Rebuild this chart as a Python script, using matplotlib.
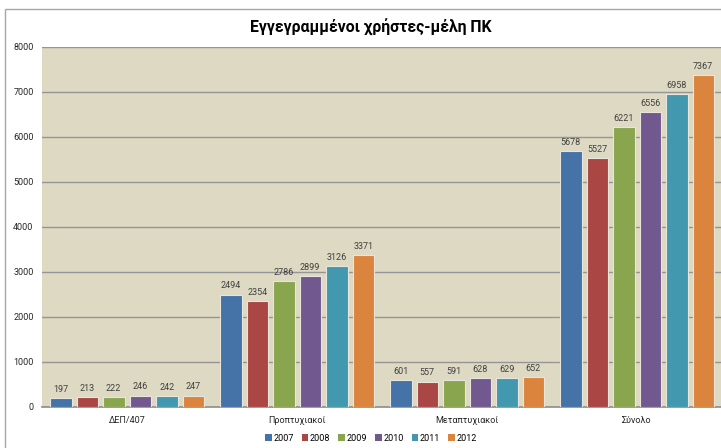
import matplotlib
matplotlib.use("Agg")
import matplotlib.pyplot as plt
import numpy as np
from matplotlib.patches import Rectangle, Patch

categories = ["ΔΕΠ/407", "Προπτυχιακοί", "Μεταπτυχιακοί", "Σύνολο"]
years = ["2007", "2008", "2009", "2010", "2011", "2012"]
v2007 = [197, 2494, 601, 5678]
v2008 = [213, 2354, 557, 5527]
v2009 = [222, 2786, 591, 6221]
v2010 = [246, 2899, 628, 6556]
v2011 = [242, 3126, 629, 6958]
v2012 = [247, 3371, 652, 7367]
series = [v2007, v2008, v2009, v2010, v2011, v2012]
colors = ["#4572A7", "#AA4643", "#89A54E", "#71588F", "#4198AF", "#DB843D"]
yticks = [0, 1000, 2000, 3000, 4000, 5000, 6000, 7000, 8000]

plt.rcParams['font.family'] = ['Roboto', 'DejaVu Sans']

W, H = 721, 448
fig = plt.figure(figsize=(W / 100, H / 100), dpi=100)
fig.patch.set_facecolor("white")

# outer chart border (left and top visible; right/bottom cropped)
fig.patches.append(Rectangle((5 / W, -0.1), 1.2, 0.1 + (H - 9) / H, transform=fig.transFigure,
                             fill=False, edgecolor="#A6A6A6", linewidth=1.0))

left, right = 42 / W, 722 / W
bottom, top = (H - 406.7) / H, (H - 47) / H
ax = fig.add_axes([left, bottom, right - left, top - bottom])
ax.set_facecolor("#DDD9C3")

x = np.arange(len(categories))
pitch = 26.5 / 170
width = 21.5 / 170
for i, (vals, c) in enumerate(zip(series, colors)):
    pos = x + (i - 2.5) * pitch
    bars = ax.bar(pos, vals, width=width, color=c, edgecolor="#E8E6DA", linewidth=0.8,
                  zorder=3, label=years[i])
    for b, v in zip(bars, vals):
        ax.annotate(str(v), (b.get_x() + b.get_width() / 2, v), xytext=(0, 3),
                    textcoords="offset points", ha="center", va="bottom",
                    fontsize=6.5, color="#404040", zorder=4)

ax.set_xlim(-0.5, len(categories) - 0.5)
ax.set_ylim(0, 8000)
ax.set_yticks(yticks)
ax.set_yticklabels([str(t) for t in yticks], fontsize=6.5, color="#262626")
ax.set_xticks(x)
ax.set_xticklabels(categories, fontsize=6.5, color="#262626")
ax.tick_params(axis="both", length=0, pad=6)
ax.tick_params(axis="x", pad=7)
ax.yaxis.grid(True, color="#959595", linewidth=1.0, zorder=1)
ax.set_axisbelow(True)
for s in ["left", "right", "top"]:
    ax.spines[s].set_visible(False)
ax.spines["bottom"].set_color("#8C8C8C")
ax.spines["bottom"].set_linewidth(1.2)

fig.text(371 / W, (H - 27) / H, "Εγγεγραμμένοι χρήστες-μέλη ΠΚ", ha="center", va="center",
         fontsize=11.3, fontweight="bold", color="#000000")

handles = [Patch(facecolor=c, edgecolor="none") for c in colors]
fig.legend(handles, years, loc="center", bbox_to_anchor=(371 / W, (H - 438) / H), ncol=6,
           frameon=False, fontsize=6.5, handlelength=0.7, handleheight=0.7,
           handletextpad=0.2, columnspacing=0.9, borderpad=0)

fig.savefig("out.png", dpi=100, facecolor="white")
